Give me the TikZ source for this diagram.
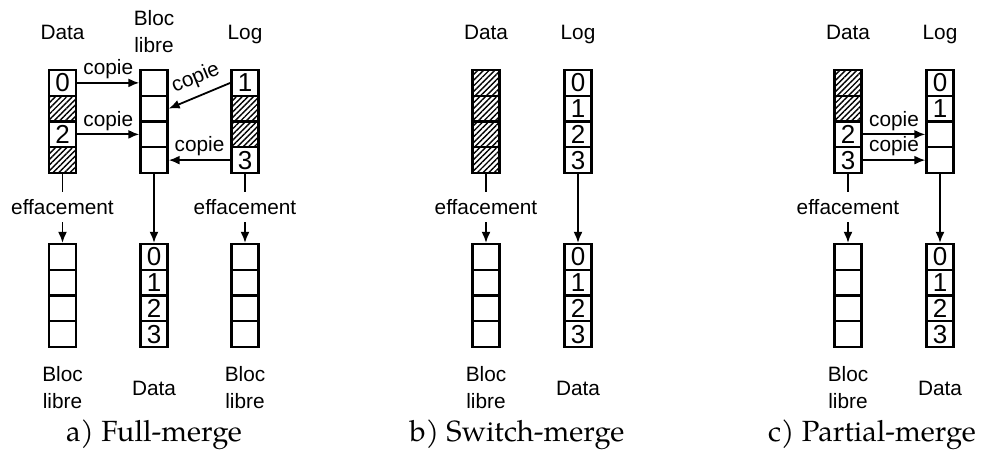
\documentclass[tikz,border=0pt]{standalone}
\usepackage{fontspec}
\usetikzlibrary{arrows.meta,patterns.meta}
\newfontfamily\labfont{Liberation Sans}
\newfontfamily\capfont[Extension=.otf]{texgyrepagella-regular}

\tikzset{
  cell/.style={draw, line width=1.15pt, minimum width=13.5pt, minimum height=12.875pt,
    inner sep=0pt, font=\labfont\fontsize{13}{13}\selectfont},
  hatch/.style={cell, pattern={Lines[angle=45,distance=2pt,line width=0.7pt]}},
  lab/.style={font=\labfont\fontsize{10.4}{13.5}\selectfont, align=center, inner sep=0pt},
  eff/.style={lab, inner ysep=3.5pt},
  arr/.style={line width=0.9pt, -{Latex[length=5.5pt,width=4.5pt]}},
  rarr/.style={line width=0.9pt, {Latex[length=5.5pt,width=4.5pt]}-},
  ln/.style={line width=0.9pt},
  captxt/.style={font=\capfont\fontsize{14.6}{18}\selectfont, inner sep=0pt},
}

% name, center x, top y, list of style/text
\newcommand\mkcol[4]{%
  \foreach \s/\t [count=\i] in {#4} {%
    \node[\s] (#1-\i) at (#2, {#3+25.75*(\i-0.5)}) {\t};
  }%
}

\begin{document}
\begin{tikzpicture}[x=0.5pt, y=-0.5pt]
\useasboundingbox (0,0) rectangle (984,452);

% ---------------- a) Full-merge ----------------
\node[lab, anchor=base] (a-tD) at (62.5,39) {Data};
\node[lab] (a-tB) at (154,32) {Bloc\\libre};
\node[lab, anchor=base] (a-tL) at (245,39) {Log};

\mkcol{a-D}{62.5}{70}{cell/0, hatch/{}, cell/2, hatch/{}}
\mkcol{a-B}{154}{70}{cell/{}, cell/{}, cell/{}, cell/{}}
\mkcol{a-L}{245}{70}{cell/1, hatch/{}, hatch/{}, cell/3}

\draw[arr] (a-D-1.east) -- node[lab, above=1.5pt, midway] {copie} (a-B-1.west);
\draw[arr] (a-D-3.east) -- node[lab, above=1.5pt, midway] {copie} (a-B-3.west);
\draw[rarr] (a-B-2.east) -- node[lab, above=3.5pt, pos=0.55, sloped] {copie} (a-L-1.west);
\draw[arr] (a-L-4.west) -- node[lab, above=1.5pt, midway] {copie} (a-B-4.east);

\node[eff] (a-e1) at (62.5,207) {effacement};
\node[eff] (a-e3) at (245,207) {effacement};

\mkcol{a-D2}{62.5}{244}{cell/{}, cell/{}, cell/{}, cell/{}}
\mkcol{a-B2}{154}{244}{cell/0, cell/1, cell/2, cell/3}
\mkcol{a-L2}{245}{244}{cell/{}, cell/{}, cell/{}, cell/{}}

\draw[ln] (a-D-4.south) -- (a-e1.north);
\draw[arr] (a-e1.south) -- (a-D2-1.north);
\draw[arr] (a-B-4.south) -- (a-B2-1.north);
\draw[ln] (a-L-4.south) -- (a-e3.north);
\draw[arr] (a-e3.south) -- (a-L2-1.north);

\node[lab] (a-bD) at (62.5,388) {Bloc\\libre};
\node[lab] (a-bB) at (154,388) {Data};
\node[lab] (a-bL) at (245,388) {Bloc\\libre};
\node[captxt] (a-cap) at (154,435) {a) Full-merge};

% ---------------- b) Switch-merge ----------------
\node[lab, anchor=base] (b-tD) at (486,39) {Data};
\node[lab, anchor=base] (b-tL) at (578,39) {Log};

\mkcol{b-D}{486}{70}{hatch/{}, hatch/{}, hatch/{}, hatch/{}}
\mkcol{b-L}{578}{70}{cell/0, cell/1, cell/2, cell/3}

\node[eff] (b-e1) at (486,207) {effacement};

\mkcol{b-D2}{486}{244}{cell/{}, cell/{}, cell/{}, cell/{}}
\mkcol{b-L2}{578}{244}{cell/0, cell/1, cell/2, cell/3}

\draw[ln] (b-D-4.south) -- (b-e1.north);
\draw[arr] (b-e1.south) -- (b-D2-1.north);
\draw[arr] (b-L-4.south) -- (b-L2-1.north);

\node[lab] (b-bD) at (486,388) {Bloc\\libre};
\node[lab] (b-bL) at (578,388) {Data};
\node[captxt] (b-cap) at (517,435) {b) Switch-merge};

% ---------------- c) Partial-merge ----------------
\node[lab, anchor=base] (c-tD) at (848,39) {Data};
\node[lab, anchor=base] (c-tL) at (940,39) {Log};

\mkcol{c-D}{848}{70}{hatch/{}, hatch/{}, cell/2, cell/3}
\mkcol{c-L}{940}{70}{cell/0, cell/1, cell/{}, cell/{}}

\draw[arr] (c-D-3.east) -- node[lab, above=1.5pt, midway] {copie} (c-L-3.west);
\draw[arr] (c-D-4.east) -- node[lab, above=1.5pt, midway] {copie} (c-L-4.west);

\node[eff] (c-e1) at (848,207) {effacement};

\mkcol{c-D2}{848}{244}{cell/{}, cell/{}, cell/{}, cell/{}}
\mkcol{c-L2}{940}{244}{cell/0, cell/1, cell/2, cell/3}

\draw[ln] (c-D-4.south) -- (c-e1.north);
\draw[arr] (c-e1.south) -- (c-D2-1.north);
\draw[arr] (c-L-4.south) -- (c-L2-1.north);

\node[lab] (c-bD) at (848,388) {Bloc\\libre};
\node[lab] (c-bL) at (940,388) {Data};
\node[captxt] (c-cap) at (872,435) {c) Partial-merge};
\end{tikzpicture}
\end{document}
